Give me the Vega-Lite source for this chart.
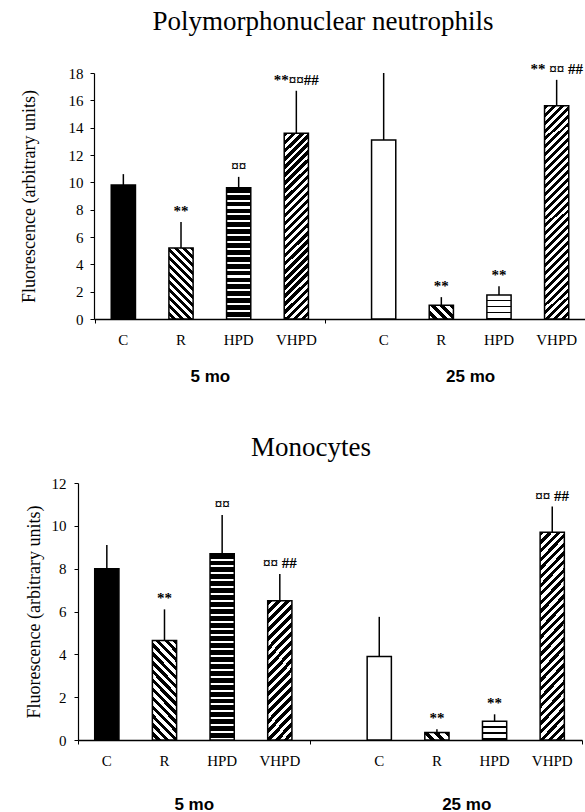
{
"$schema":"https://vega.github.io/schema/vega-lite/v6.json",
"background":"white",
"padding":{"left":20,"top":8,"right":0,"bottom":0},
"datasets":{
"pmn":[
{"id":"C5","age":"5 mo","trt":"C","v":9.8,"err":10.6,"sig":""},
{"id":"R5","age":"5 mo","trt":"R","v":5.2,"err":7.1,"sig":"**"},
{"id":"HPD5","age":"5 mo","trt":"HPD","v":9.6,"err":10.4,"sig":"¤¤"},
{"id":"VHPD5","age":"5 mo","trt":"VHPD","v":13.6,"err":16.7,"sig":"**¤¤##"},
{"id":"C25","age":"25 mo","trt":"C","v":13.1,"err":18.0,"sig":""},
{"id":"R25","age":"25 mo","trt":"R","v":1.0,"err":1.6,"sig":"**"},
{"id":"HPD25","age":"25 mo","trt":"HPD","v":1.75,"err":2.4,"sig":"**"},
{"id":"VHPD25","age":"25 mo","trt":"VHPD","v":15.6,"err":17.5,"sig":"** ¤¤ ##"}
],
"mono":[
{"id":"C5","age":"5 mo","trt":"C","v":8.0,"err":9.1,"sig":""},
{"id":"R5","age":"5 mo","trt":"R","v":4.65,"err":6.1,"sig":"**"},
{"id":"HPD5","age":"5 mo","trt":"HPD","v":8.7,"err":10.5,"sig":"¤¤"},
{"id":"VHPD5","age":"5 mo","trt":"VHPD","v":6.5,"err":7.75,"sig":"¤¤ ##"},
{"id":"C25","age":"25 mo","trt":"C","v":3.9,"err":5.75,"sig":""},
{"id":"R25","age":"25 mo","trt":"R","v":0.35,"err":0.5,"sig":"**"},
{"id":"HPD25","age":"25 mo","trt":"HPD","v":0.87,"err":1.2,"sig":"**"},
{"id":"VHPD25","age":"25 mo","trt":"VHPD","v":9.7,"err":10.9,"sig":"¤¤ ##"}
]
},
"config":{
"view":{"stroke":null},
"font":"Liberation Serif",
"axis":{"domainColor":"#000","tickColor":"#000","labelColor":"#000","titleColor":"#000","grid":false,"tickSize":4},
"axisY":{"labelFont":"Liberation Serif","labelFontSize":15,"titleFont":"Liberation Serif","titleFontSize":18,"titleFontWeight":"normal","domainWidth":1.2},
"axisX":{"labelFont":"Liberation Sans","labelFontWeight":"bold","labelFontSize":17,"labelAngle":0,"tickBand":"extent","domainWidth":1.5},
"title":{"color":"#000","font":"Liberation Serif","fontWeight":"normal","anchor":"middle"},
"concat":{"spacing":50}
},
"vconcat":[
{
"width":508,"height":246,
"data":{"name":"pmn"},
"title":{"text":"Polymorphonuclear neutrophils","fontSize":27,"dx":-9,"offset":19},
"encoding":{
"x":{"field":"age","type":"nominal","sort":["5 mo","25 mo"],"scale":{"range":[16,508],"paddingInner":0.114,"paddingOuter":0.002},"axis":{"title":null,"labelPadding":45}},
"xOffset":{"field":"trt","type":"nominal","sort":["C","R","HPD","VHPD"],"scale":{"paddingInner":0.58,"paddingOuter":0.29}},
"y":{"field":"v","type":"quantitative","title":"Fluorescence (arbitrary units)","scale":{"domain":[0,18],"nice":false},"axis":{"values":[0,2,4,6,8,10,12,14,16,18],"offset":-16,"titlePadding":30,"labelPadding":7}}
},
"layer":[
{"transform":[{"filter":"datum.id=='C5'"}],"mark":{"type":"bar","fill":"#000","stroke":"#000","strokeWidth":1.5}},
{"transform":[{"filter":"datum.id=='R5'"}],"mark":{"type":"bar","stroke":"#000","strokeWidth":1.5,"fill":{"gradient":"linear","x1":1,"y1":0,"x2":0.594,"y2":1.2,"stops":[
{"offset":0,"color":"#000"},{"offset":0.0417,"color":"#000"},{"offset":0.0417,"color":"#fff"},{"offset":0.0833,"color":"#fff"},
{"offset":0.0833,"color":"#000"},{"offset":0.125,"color":"#000"},{"offset":0.125,"color":"#fff"},{"offset":0.1667,"color":"#fff"},
{"offset":0.1667,"color":"#000"},{"offset":0.2083,"color":"#000"},{"offset":0.2083,"color":"#fff"},{"offset":0.25,"color":"#fff"},
{"offset":0.25,"color":"#000"},{"offset":0.2917,"color":"#000"},{"offset":0.2917,"color":"#fff"},{"offset":0.3333,"color":"#fff"},
{"offset":0.3333,"color":"#000"},{"offset":0.375,"color":"#000"},{"offset":0.375,"color":"#fff"},{"offset":0.4167,"color":"#fff"},
{"offset":0.4167,"color":"#000"},{"offset":0.4583,"color":"#000"},{"offset":0.4583,"color":"#fff"},{"offset":0.5,"color":"#fff"},
{"offset":0.5,"color":"#000"},{"offset":0.5417,"color":"#000"},{"offset":0.5417,"color":"#fff"},{"offset":0.5833,"color":"#fff"},
{"offset":0.5833,"color":"#000"},{"offset":0.625,"color":"#000"},{"offset":0.625,"color":"#fff"},{"offset":0.6667,"color":"#fff"},
{"offset":0.6667,"color":"#000"},{"offset":0.7083,"color":"#000"},{"offset":0.7083,"color":"#fff"},{"offset":0.75,"color":"#fff"},
{"offset":0.75,"color":"#000"},{"offset":0.7917,"color":"#000"},{"offset":0.7917,"color":"#fff"},{"offset":0.8333,"color":"#fff"},
{"offset":0.8333,"color":"#000"},{"offset":0.875,"color":"#000"},{"offset":0.875,"color":"#fff"},{"offset":0.9167,"color":"#fff"},
{"offset":0.9167,"color":"#000"},{"offset":0.9583,"color":"#000"},{"offset":0.9583,"color":"#fff"},{"offset":1,"color":"#fff"}]}}},
{"transform":[{"filter":"datum.id=='HPD5'"}],"mark":{"type":"bar","stroke":"#000","strokeWidth":1.5,"fill":{"gradient":"linear","x1":0,"y1":0,"x2":0,"y2":1,"stops":[
{"offset":0,"color":"#000"},{"offset":0.0368,"color":"#000"},{"offset":0.0368,"color":"#fff"},{"offset":0.0526,"color":"#fff"},
{"offset":0.0526,"color":"#000"},{"offset":0.0895,"color":"#000"},{"offset":0.0895,"color":"#fff"},{"offset":0.1053,"color":"#fff"},
{"offset":0.1053,"color":"#000"},{"offset":0.1421,"color":"#000"},{"offset":0.1421,"color":"#fff"},{"offset":0.1579,"color":"#fff"},
{"offset":0.1579,"color":"#000"},{"offset":0.1947,"color":"#000"},{"offset":0.1947,"color":"#fff"},{"offset":0.2105,"color":"#fff"},
{"offset":0.2105,"color":"#000"},{"offset":0.2474,"color":"#000"},{"offset":0.2474,"color":"#fff"},{"offset":0.2632,"color":"#fff"},
{"offset":0.2632,"color":"#000"},{"offset":0.3,"color":"#000"},{"offset":0.3,"color":"#fff"},{"offset":0.3158,"color":"#fff"},
{"offset":0.3158,"color":"#000"},{"offset":0.3526,"color":"#000"},{"offset":0.3526,"color":"#fff"},{"offset":0.3684,"color":"#fff"},
{"offset":0.3684,"color":"#000"},{"offset":0.4053,"color":"#000"},{"offset":0.4053,"color":"#fff"},{"offset":0.4211,"color":"#fff"},
{"offset":0.4211,"color":"#000"},{"offset":0.4579,"color":"#000"},{"offset":0.4579,"color":"#fff"},{"offset":0.4737,"color":"#fff"},
{"offset":0.4737,"color":"#000"},{"offset":0.5105,"color":"#000"},{"offset":0.5105,"color":"#fff"},{"offset":0.5263,"color":"#fff"},
{"offset":0.5263,"color":"#000"},{"offset":0.5632,"color":"#000"},{"offset":0.5632,"color":"#fff"},{"offset":0.5789,"color":"#fff"},
{"offset":0.5789,"color":"#000"},{"offset":0.6158,"color":"#000"},{"offset":0.6158,"color":"#fff"},{"offset":0.6316,"color":"#fff"},
{"offset":0.6316,"color":"#000"},{"offset":0.6684,"color":"#000"},{"offset":0.6684,"color":"#fff"},{"offset":0.6842,"color":"#fff"},
{"offset":0.6842,"color":"#000"},{"offset":0.7211,"color":"#000"},{"offset":0.7211,"color":"#fff"},{"offset":0.7368,"color":"#fff"},
{"offset":0.7368,"color":"#000"},{"offset":0.7737,"color":"#000"},{"offset":0.7737,"color":"#fff"},{"offset":0.7895,"color":"#fff"},
{"offset":0.7895,"color":"#000"},{"offset":0.8263,"color":"#000"},{"offset":0.8263,"color":"#fff"},{"offset":0.8421,"color":"#fff"},
{"offset":0.8421,"color":"#000"},{"offset":0.8789,"color":"#000"},{"offset":0.8789,"color":"#fff"},{"offset":0.8947,"color":"#fff"},
{"offset":0.8947,"color":"#000"},{"offset":0.9316,"color":"#000"},{"offset":0.9316,"color":"#fff"},{"offset":0.9474,"color":"#fff"},
{"offset":0.9474,"color":"#000"},{"offset":0.9842,"color":"#000"},{"offset":0.9842,"color":"#fff"},{"offset":1,"color":"#fff"}]}}},
{"transform":[{"filter":"datum.id=='VHPD5'"}],"mark":{"type":"bar","stroke":"#000","strokeWidth":1.5,"fill":{"gradient":"linear","x1":0,"y1":0,"x2":0.1433,"y2":1.1105,"stops":[
{"offset":0,"color":"#000"},{"offset":0.0212,"color":"#000"},{"offset":0.0212,"color":"#fff"},{"offset":0.0385,"color":"#fff"},
{"offset":0.0385,"color":"#000"},{"offset":0.0596,"color":"#000"},{"offset":0.0596,"color":"#fff"},{"offset":0.0769,"color":"#fff"},
{"offset":0.0769,"color":"#000"},{"offset":0.0981,"color":"#000"},{"offset":0.0981,"color":"#fff"},{"offset":0.1154,"color":"#fff"},
{"offset":0.1154,"color":"#000"},{"offset":0.1365,"color":"#000"},{"offset":0.1365,"color":"#fff"},{"offset":0.1538,"color":"#fff"},
{"offset":0.1538,"color":"#000"},{"offset":0.175,"color":"#000"},{"offset":0.175,"color":"#fff"},{"offset":0.1923,"color":"#fff"},
{"offset":0.1923,"color":"#000"},{"offset":0.2135,"color":"#000"},{"offset":0.2135,"color":"#fff"},{"offset":0.2308,"color":"#fff"},
{"offset":0.2308,"color":"#000"},{"offset":0.2519,"color":"#000"},{"offset":0.2519,"color":"#fff"},{"offset":0.2692,"color":"#fff"},
{"offset":0.2692,"color":"#000"},{"offset":0.2904,"color":"#000"},{"offset":0.2904,"color":"#fff"},{"offset":0.3077,"color":"#fff"},
{"offset":0.3077,"color":"#000"},{"offset":0.3288,"color":"#000"},{"offset":0.3288,"color":"#fff"},{"offset":0.3462,"color":"#fff"},
{"offset":0.3462,"color":"#000"},{"offset":0.3673,"color":"#000"},{"offset":0.3673,"color":"#fff"},{"offset":0.3846,"color":"#fff"},
{"offset":0.3846,"color":"#000"},{"offset":0.4058,"color":"#000"},{"offset":0.4058,"color":"#fff"},{"offset":0.4231,"color":"#fff"},
{"offset":0.4231,"color":"#000"},{"offset":0.4442,"color":"#000"},{"offset":0.4442,"color":"#fff"},{"offset":0.4615,"color":"#fff"},
{"offset":0.4615,"color":"#000"},{"offset":0.4827,"color":"#000"},{"offset":0.4827,"color":"#fff"},{"offset":0.5,"color":"#fff"},
{"offset":0.5,"color":"#000"},{"offset":0.5212,"color":"#000"},{"offset":0.5212,"color":"#fff"},{"offset":0.5385,"color":"#fff"},
{"offset":0.5385,"color":"#000"},{"offset":0.5596,"color":"#000"},{"offset":0.5596,"color":"#fff"},{"offset":0.5769,"color":"#fff"},
{"offset":0.5769,"color":"#000"},{"offset":0.5981,"color":"#000"},{"offset":0.5981,"color":"#fff"},{"offset":0.6154,"color":"#fff"},
{"offset":0.6154,"color":"#000"},{"offset":0.6365,"color":"#000"},{"offset":0.6365,"color":"#fff"},{"offset":0.6538,"color":"#fff"},
{"offset":0.6538,"color":"#000"},{"offset":0.675,"color":"#000"},{"offset":0.675,"color":"#fff"},{"offset":0.6923,"color":"#fff"},
{"offset":0.6923,"color":"#000"},{"offset":0.7135,"color":"#000"},{"offset":0.7135,"color":"#fff"},{"offset":0.7308,"color":"#fff"},
{"offset":0.7308,"color":"#000"},{"offset":0.7519,"color":"#000"},{"offset":0.7519,"color":"#fff"},{"offset":0.7692,"color":"#fff"},
{"offset":0.7692,"color":"#000"},{"offset":0.7904,"color":"#000"},{"offset":0.7904,"color":"#fff"},{"offset":0.8077,"color":"#fff"},
{"offset":0.8077,"color":"#000"},{"offset":0.8288,"color":"#000"},{"offset":0.8288,"color":"#fff"},{"offset":0.8462,"color":"#fff"},
{"offset":0.8462,"color":"#000"},{"offset":0.8673,"color":"#000"},{"offset":0.8673,"color":"#fff"},{"offset":0.8846,"color":"#fff"},
{"offset":0.8846,"color":"#000"},{"offset":0.9058,"color":"#000"},{"offset":0.9058,"color":"#fff"},{"offset":0.9231,"color":"#fff"},
{"offset":0.9231,"color":"#000"},{"offset":0.9442,"color":"#000"},{"offset":0.9442,"color":"#fff"},{"offset":0.9615,"color":"#fff"},
{"offset":0.9615,"color":"#000"},{"offset":0.9827,"color":"#000"},{"offset":0.9827,"color":"#fff"},{"offset":1,"color":"#fff"}]}}},
{"transform":[{"filter":"datum.id=='C25'"}],"mark":{"type":"bar","fill":"#fff","stroke":"#000","strokeWidth":1.5}},
{"transform":[{"filter":"datum.id=='R25'"}],"mark":{"type":"bar","stroke":"#000","strokeWidth":1.5,"fill":{"gradient":"linear","x1":1,"y1":0,"x2":-0.185,"y2":0.676,"stops":[
{"offset":0,"color":"#000"},{"offset":0.125,"color":"#000"},{"offset":0.125,"color":"#fff"},{"offset":0.25,"color":"#fff"},
{"offset":0.25,"color":"#000"},{"offset":0.375,"color":"#000"},{"offset":0.375,"color":"#fff"},{"offset":0.5,"color":"#fff"},
{"offset":0.5,"color":"#000"},{"offset":0.625,"color":"#000"},{"offset":0.625,"color":"#fff"},{"offset":0.75,"color":"#fff"},
{"offset":0.75,"color":"#000"},{"offset":0.875,"color":"#000"},{"offset":0.875,"color":"#fff"},{"offset":1,"color":"#fff"}]}}},
{"transform":[{"filter":"datum.id=='HPD25'"}],"mark":{"type":"bar","stroke":"#000","strokeWidth":1.5,"fill":{"gradient":"linear","x1":0,"y1":0,"x2":0,"y2":1,"stops":[
{"offset":0,"color":"#fff"},{"offset":0.1875,"color":"#fff"},{"offset":0.1875,"color":"#000"},{"offset":0.25,"color":"#000"},
{"offset":0.25,"color":"#fff"},{"offset":0.4375,"color":"#fff"},{"offset":0.4375,"color":"#000"},{"offset":0.5,"color":"#000"},
{"offset":0.5,"color":"#fff"},{"offset":0.6875,"color":"#fff"},{"offset":0.6875,"color":"#000"},{"offset":0.75,"color":"#000"},
{"offset":0.75,"color":"#fff"},{"offset":0.9375,"color":"#fff"},{"offset":0.9375,"color":"#000"},{"offset":1,"color":"#000"}]}}},
{"transform":[{"filter":"datum.id=='VHPD25'"}],"mark":{"type":"bar","stroke":"#000","strokeWidth":1.5,"fill":{"gradient":"linear","x1":0,"y1":0,"x2":0.1238,"y2":1.0987,"stops":[
{"offset":0,"color":"#000"},{"offset":0.0167,"color":"#000"},{"offset":0.0167,"color":"#fff"},{"offset":0.0333,"color":"#fff"},
{"offset":0.0333,"color":"#000"},{"offset":0.05,"color":"#000"},{"offset":0.05,"color":"#fff"},{"offset":0.0667,"color":"#fff"},
{"offset":0.0667,"color":"#000"},{"offset":0.0833,"color":"#000"},{"offset":0.0833,"color":"#fff"},{"offset":0.1,"color":"#fff"},
{"offset":0.1,"color":"#000"},{"offset":0.1167,"color":"#000"},{"offset":0.1167,"color":"#fff"},{"offset":0.1333,"color":"#fff"},
{"offset":0.1333,"color":"#000"},{"offset":0.15,"color":"#000"},{"offset":0.15,"color":"#fff"},{"offset":0.1667,"color":"#fff"},
{"offset":0.1667,"color":"#000"},{"offset":0.1833,"color":"#000"},{"offset":0.1833,"color":"#fff"},{"offset":0.2,"color":"#fff"},
{"offset":0.2,"color":"#000"},{"offset":0.2167,"color":"#000"},{"offset":0.2167,"color":"#fff"},{"offset":0.2333,"color":"#fff"},
{"offset":0.2333,"color":"#000"},{"offset":0.25,"color":"#000"},{"offset":0.25,"color":"#fff"},{"offset":0.2667,"color":"#fff"},
{"offset":0.2667,"color":"#000"},{"offset":0.2833,"color":"#000"},{"offset":0.2833,"color":"#fff"},{"offset":0.3,"color":"#fff"},
{"offset":0.3,"color":"#000"},{"offset":0.3167,"color":"#000"},{"offset":0.3167,"color":"#fff"},{"offset":0.3333,"color":"#fff"},
{"offset":0.3333,"color":"#000"},{"offset":0.35,"color":"#000"},{"offset":0.35,"color":"#fff"},{"offset":0.3667,"color":"#fff"},
{"offset":0.3667,"color":"#000"},{"offset":0.3833,"color":"#000"},{"offset":0.3833,"color":"#fff"},{"offset":0.4,"color":"#fff"},
{"offset":0.4,"color":"#000"},{"offset":0.4167,"color":"#000"},{"offset":0.4167,"color":"#fff"},{"offset":0.4333,"color":"#fff"},
{"offset":0.4333,"color":"#000"},{"offset":0.45,"color":"#000"},{"offset":0.45,"color":"#fff"},{"offset":0.4667,"color":"#fff"},
{"offset":0.4667,"color":"#000"},{"offset":0.4833,"color":"#000"},{"offset":0.4833,"color":"#fff"},{"offset":0.5,"color":"#fff"},
{"offset":0.5,"color":"#000"},{"offset":0.5167,"color":"#000"},{"offset":0.5167,"color":"#fff"},{"offset":0.5333,"color":"#fff"},
{"offset":0.5333,"color":"#000"},{"offset":0.55,"color":"#000"},{"offset":0.55,"color":"#fff"},{"offset":0.5667,"color":"#fff"},
{"offset":0.5667,"color":"#000"},{"offset":0.5833,"color":"#000"},{"offset":0.5833,"color":"#fff"},{"offset":0.6,"color":"#fff"},
{"offset":0.6,"color":"#000"},{"offset":0.6167,"color":"#000"},{"offset":0.6167,"color":"#fff"},{"offset":0.6333,"color":"#fff"},
{"offset":0.6333,"color":"#000"},{"offset":0.65,"color":"#000"},{"offset":0.65,"color":"#fff"},{"offset":0.6667,"color":"#fff"},
{"offset":0.6667,"color":"#000"},{"offset":0.6833,"color":"#000"},{"offset":0.6833,"color":"#fff"},{"offset":0.7,"color":"#fff"},
{"offset":0.7,"color":"#000"},{"offset":0.7167,"color":"#000"},{"offset":0.7167,"color":"#fff"},{"offset":0.7333,"color":"#fff"},
{"offset":0.7333,"color":"#000"},{"offset":0.75,"color":"#000"},{"offset":0.75,"color":"#fff"},{"offset":0.7667,"color":"#fff"},
{"offset":0.7667,"color":"#000"},{"offset":0.7833,"color":"#000"},{"offset":0.7833,"color":"#fff"},{"offset":0.8,"color":"#fff"},
{"offset":0.8,"color":"#000"},{"offset":0.8167,"color":"#000"},{"offset":0.8167,"color":"#fff"},{"offset":0.8333,"color":"#fff"},
{"offset":0.8333,"color":"#000"},{"offset":0.85,"color":"#000"},{"offset":0.85,"color":"#fff"},{"offset":0.8667,"color":"#fff"},
{"offset":0.8667,"color":"#000"},{"offset":0.8833,"color":"#000"},{"offset":0.8833,"color":"#fff"},{"offset":0.9,"color":"#fff"},
{"offset":0.9,"color":"#000"},{"offset":0.9167,"color":"#000"},{"offset":0.9167,"color":"#fff"},{"offset":0.9333,"color":"#fff"},
{"offset":0.9333,"color":"#000"},{"offset":0.95,"color":"#000"},{"offset":0.95,"color":"#fff"},{"offset":0.9667,"color":"#fff"},
{"offset":0.9667,"color":"#000"},{"offset":0.9833,"color":"#000"},{"offset":0.9833,"color":"#fff"},{"offset":1,"color":"#fff"}]}}},
{"mark":{"type":"rule","color":"#000","strokeWidth":1.5},"encoding":{"y2":{"field":"err"}}},
{"mark":{"type":"text","baseline":"bottom","dy":-3,"fontSize":15,"fontWeight":"bold","color":"#000"},"encoding":{"y":{"field":"err","type":"quantitative","title":"Fluorescence (arbitrary units)"},"text":{"field":"sig"}}},
{"mark":{"type":"text","baseline":"middle","dy":21,"fontSize":15,"color":"#000"},"encoding":{"y":{"datum":0,"type":"quantitative","title":"Fluorescence (arbitrary units)"},"text":{"field":"trt"}}}
]
},
{
"width":508,"height":257,
"data":{"name":"mono"},
"title":{"text":"Monocytes","fontSize":27,"dx":-21,"offset":14},
"encoding":{
"x":{"field":"age","type":"nominal","sort":["5 mo","25 mo"],"scale":{"range":[0,504],"paddingInner":0.15,"paddingOuter":0},"axis":{"title":null,"labelPadding":52}},
"xOffset":{"field":"trt","type":"nominal","sort":["C","R","HPD","VHPD"],"scale":{"paddingInner":0.58,"paddingOuter":0.29}},
"y":{"field":"v","type":"quantitative","title":"Fluorescence (arbitrary units)","scale":{"domain":[0,12],"nice":false},"axis":{"values":[0,2,4,6,8,10,12],"titlePadding":8,"labelPadding":8}}
},
"layer":[
{"transform":[{"filter":"datum.id=='C5'"}],"mark":{"type":"bar","fill":"#000","stroke":"#000","strokeWidth":1.5}},
{"transform":[{"filter":"datum.id=='R5'"}],"mark":{"type":"bar","stroke":"#000","strokeWidth":1.5,"fill":{"gradient":"linear","x1":1,"y1":0,"x2":0.706,"y2":1.176,"stops":[
{"offset":0,"color":"#000"},{"offset":0.0357,"color":"#000"},{"offset":0.0357,"color":"#fff"},{"offset":0.0714,"color":"#fff"},
{"offset":0.0714,"color":"#000"},{"offset":0.1071,"color":"#000"},{"offset":0.1071,"color":"#fff"},{"offset":0.1429,"color":"#fff"},
{"offset":0.1429,"color":"#000"},{"offset":0.1786,"color":"#000"},{"offset":0.1786,"color":"#fff"},{"offset":0.2143,"color":"#fff"},
{"offset":0.2143,"color":"#000"},{"offset":0.25,"color":"#000"},{"offset":0.25,"color":"#fff"},{"offset":0.2857,"color":"#fff"},
{"offset":0.2857,"color":"#000"},{"offset":0.3214,"color":"#000"},{"offset":0.3214,"color":"#fff"},{"offset":0.3571,"color":"#fff"},
{"offset":0.3571,"color":"#000"},{"offset":0.3929,"color":"#000"},{"offset":0.3929,"color":"#fff"},{"offset":0.4286,"color":"#fff"},
{"offset":0.4286,"color":"#000"},{"offset":0.4643,"color":"#000"},{"offset":0.4643,"color":"#fff"},{"offset":0.5,"color":"#fff"},
{"offset":0.5,"color":"#000"},{"offset":0.5357,"color":"#000"},{"offset":0.5357,"color":"#fff"},{"offset":0.5714,"color":"#fff"},
{"offset":0.5714,"color":"#000"},{"offset":0.6071,"color":"#000"},{"offset":0.6071,"color":"#fff"},{"offset":0.6429,"color":"#fff"},
{"offset":0.6429,"color":"#000"},{"offset":0.6786,"color":"#000"},{"offset":0.6786,"color":"#fff"},{"offset":0.7143,"color":"#fff"},
{"offset":0.7143,"color":"#000"},{"offset":0.75,"color":"#000"},{"offset":0.75,"color":"#fff"},{"offset":0.7857,"color":"#fff"},
{"offset":0.7857,"color":"#000"},{"offset":0.8214,"color":"#000"},{"offset":0.8214,"color":"#fff"},{"offset":0.8571,"color":"#fff"},
{"offset":0.8571,"color":"#000"},{"offset":0.8929,"color":"#000"},{"offset":0.8929,"color":"#fff"},{"offset":0.9286,"color":"#fff"},
{"offset":0.9286,"color":"#000"},{"offset":0.9643,"color":"#000"},{"offset":0.9643,"color":"#fff"},{"offset":1,"color":"#fff"}]}}},
{"transform":[{"filter":"datum.id=='HPD5'"}],"mark":{"type":"bar","stroke":"#000","strokeWidth":1.5,"fill":{"gradient":"linear","x1":0,"y1":0,"x2":0,"y2":1,"stops":[
{"offset":0,"color":"#000"},{"offset":0.0259,"color":"#000"},{"offset":0.0259,"color":"#fff"},{"offset":0.037,"color":"#fff"},
{"offset":0.037,"color":"#000"},{"offset":0.063,"color":"#000"},{"offset":0.063,"color":"#fff"},{"offset":0.0741,"color":"#fff"},
{"offset":0.0741,"color":"#000"},{"offset":0.1,"color":"#000"},{"offset":0.1,"color":"#fff"},{"offset":0.1111,"color":"#fff"},
{"offset":0.1111,"color":"#000"},{"offset":0.137,"color":"#000"},{"offset":0.137,"color":"#fff"},{"offset":0.1481,"color":"#fff"},
{"offset":0.1481,"color":"#000"},{"offset":0.1741,"color":"#000"},{"offset":0.1741,"color":"#fff"},{"offset":0.1852,"color":"#fff"},
{"offset":0.1852,"color":"#000"},{"offset":0.2111,"color":"#000"},{"offset":0.2111,"color":"#fff"},{"offset":0.2222,"color":"#fff"},
{"offset":0.2222,"color":"#000"},{"offset":0.2481,"color":"#000"},{"offset":0.2481,"color":"#fff"},{"offset":0.2593,"color":"#fff"},
{"offset":0.2593,"color":"#000"},{"offset":0.2852,"color":"#000"},{"offset":0.2852,"color":"#fff"},{"offset":0.2963,"color":"#fff"},
{"offset":0.2963,"color":"#000"},{"offset":0.3222,"color":"#000"},{"offset":0.3222,"color":"#fff"},{"offset":0.3333,"color":"#fff"},
{"offset":0.3333,"color":"#000"},{"offset":0.3593,"color":"#000"},{"offset":0.3593,"color":"#fff"},{"offset":0.3704,"color":"#fff"},
{"offset":0.3704,"color":"#000"},{"offset":0.3963,"color":"#000"},{"offset":0.3963,"color":"#fff"},{"offset":0.4074,"color":"#fff"},
{"offset":0.4074,"color":"#000"},{"offset":0.4333,"color":"#000"},{"offset":0.4333,"color":"#fff"},{"offset":0.4444,"color":"#fff"},
{"offset":0.4444,"color":"#000"},{"offset":0.4704,"color":"#000"},{"offset":0.4704,"color":"#fff"},{"offset":0.4815,"color":"#fff"},
{"offset":0.4815,"color":"#000"},{"offset":0.5074,"color":"#000"},{"offset":0.5074,"color":"#fff"},{"offset":0.5185,"color":"#fff"},
{"offset":0.5185,"color":"#000"},{"offset":0.5444,"color":"#000"},{"offset":0.5444,"color":"#fff"},{"offset":0.5556,"color":"#fff"},
{"offset":0.5556,"color":"#000"},{"offset":0.5815,"color":"#000"},{"offset":0.5815,"color":"#fff"},{"offset":0.5926,"color":"#fff"},
{"offset":0.5926,"color":"#000"},{"offset":0.6185,"color":"#000"},{"offset":0.6185,"color":"#fff"},{"offset":0.6296,"color":"#fff"},
{"offset":0.6296,"color":"#000"},{"offset":0.6556,"color":"#000"},{"offset":0.6556,"color":"#fff"},{"offset":0.6667,"color":"#fff"},
{"offset":0.6667,"color":"#000"},{"offset":0.6926,"color":"#000"},{"offset":0.6926,"color":"#fff"},{"offset":0.7037,"color":"#fff"},
{"offset":0.7037,"color":"#000"},{"offset":0.7296,"color":"#000"},{"offset":0.7296,"color":"#fff"},{"offset":0.7407,"color":"#fff"},
{"offset":0.7407,"color":"#000"},{"offset":0.7667,"color":"#000"},{"offset":0.7667,"color":"#fff"},{"offset":0.7778,"color":"#fff"},
{"offset":0.7778,"color":"#000"},{"offset":0.8037,"color":"#000"},{"offset":0.8037,"color":"#fff"},{"offset":0.8148,"color":"#fff"},
{"offset":0.8148,"color":"#000"},{"offset":0.8407,"color":"#000"},{"offset":0.8407,"color":"#fff"},{"offset":0.8519,"color":"#fff"},
{"offset":0.8519,"color":"#000"},{"offset":0.8778,"color":"#000"},{"offset":0.8778,"color":"#fff"},{"offset":0.8889,"color":"#fff"},
{"offset":0.8889,"color":"#000"},{"offset":0.9148,"color":"#000"},{"offset":0.9148,"color":"#fff"},{"offset":0.9259,"color":"#fff"},
{"offset":0.9259,"color":"#000"},{"offset":0.9519,"color":"#000"},{"offset":0.9519,"color":"#fff"},{"offset":0.963,"color":"#fff"},
{"offset":0.963,"color":"#000"},{"offset":0.9889,"color":"#000"},{"offset":0.9889,"color":"#fff"},{"offset":1,"color":"#fff"}]}}},
{"transform":[{"filter":"datum.id=='VHPD5'"}],"mark":{"type":"bar","stroke":"#000","strokeWidth":1.5,"fill":{"gradient":"linear","x1":0,"y1":0,"x2":0.2056,"y2":1.143,"stops":[
{"offset":0,"color":"#000"},{"offset":0.0306,"color":"#000"},{"offset":0.0306,"color":"#fff"},{"offset":0.0556,"color":"#fff"},
{"offset":0.0556,"color":"#000"},{"offset":0.0861,"color":"#000"},{"offset":0.0861,"color":"#fff"},{"offset":0.1111,"color":"#fff"},
{"offset":0.1111,"color":"#000"},{"offset":0.1417,"color":"#000"},{"offset":0.1417,"color":"#fff"},{"offset":0.1667,"color":"#fff"},
{"offset":0.1667,"color":"#000"},{"offset":0.1972,"color":"#000"},{"offset":0.1972,"color":"#fff"},{"offset":0.2222,"color":"#fff"},
{"offset":0.2222,"color":"#000"},{"offset":0.2528,"color":"#000"},{"offset":0.2528,"color":"#fff"},{"offset":0.2778,"color":"#fff"},
{"offset":0.2778,"color":"#000"},{"offset":0.3083,"color":"#000"},{"offset":0.3083,"color":"#fff"},{"offset":0.3333,"color":"#fff"},
{"offset":0.3333,"color":"#000"},{"offset":0.3639,"color":"#000"},{"offset":0.3639,"color":"#fff"},{"offset":0.3889,"color":"#fff"},
{"offset":0.3889,"color":"#000"},{"offset":0.4194,"color":"#000"},{"offset":0.4194,"color":"#fff"},{"offset":0.4444,"color":"#fff"},
{"offset":0.4444,"color":"#000"},{"offset":0.475,"color":"#000"},{"offset":0.475,"color":"#fff"},{"offset":0.5,"color":"#fff"},
{"offset":0.5,"color":"#000"},{"offset":0.5306,"color":"#000"},{"offset":0.5306,"color":"#fff"},{"offset":0.5556,"color":"#fff"},
{"offset":0.5556,"color":"#000"},{"offset":0.5861,"color":"#000"},{"offset":0.5861,"color":"#fff"},{"offset":0.6111,"color":"#fff"},
{"offset":0.6111,"color":"#000"},{"offset":0.6417,"color":"#000"},{"offset":0.6417,"color":"#fff"},{"offset":0.6667,"color":"#fff"},
{"offset":0.6667,"color":"#000"},{"offset":0.6972,"color":"#000"},{"offset":0.6972,"color":"#fff"},{"offset":0.7222,"color":"#fff"},
{"offset":0.7222,"color":"#000"},{"offset":0.7528,"color":"#000"},{"offset":0.7528,"color":"#fff"},{"offset":0.7778,"color":"#fff"},
{"offset":0.7778,"color":"#000"},{"offset":0.8083,"color":"#000"},{"offset":0.8083,"color":"#fff"},{"offset":0.8333,"color":"#fff"},
{"offset":0.8333,"color":"#000"},{"offset":0.8639,"color":"#000"},{"offset":0.8639,"color":"#fff"},{"offset":0.8889,"color":"#fff"},
{"offset":0.8889,"color":"#000"},{"offset":0.9194,"color":"#000"},{"offset":0.9194,"color":"#fff"},{"offset":0.9444,"color":"#fff"},
{"offset":0.9444,"color":"#000"},{"offset":0.975,"color":"#000"},{"offset":0.975,"color":"#fff"},{"offset":1,"color":"#fff"}]}}},
{"transform":[{"filter":"datum.id=='C25'"}],"mark":{"type":"bar","fill":"#fff","stroke":"#000","strokeWidth":1.5}},
{"transform":[{"filter":"datum.id=='R25'"}],"mark":{"type":"bar","stroke":"#000","strokeWidth":1.5,"fill":{"gradient":"linear","x1":1,"y1":0,"x2":-0.193,"y2":0.358,"stops":[
{"offset":0,"color":"#000"},{"offset":0.1667,"color":"#000"},{"offset":0.1667,"color":"#fff"},{"offset":0.3333,"color":"#fff"},
{"offset":0.3333,"color":"#000"},{"offset":0.5,"color":"#000"},{"offset":0.5,"color":"#fff"},{"offset":0.6667,"color":"#fff"},
{"offset":0.6667,"color":"#000"},{"offset":0.8333,"color":"#000"},{"offset":0.8333,"color":"#fff"},{"offset":1,"color":"#fff"}]}}},
{"transform":[{"filter":"datum.id=='HPD25'"}],"mark":{"type":"bar","stroke":"#000","strokeWidth":1.5,"fill":{"gradient":"linear","x1":0,"y1":0,"x2":0,"y2":1,"stops":[
{"offset":0,"color":"#fff"},{"offset":0.25,"color":"#fff"},{"offset":0.25,"color":"#000"},{"offset":0.3333,"color":"#000"},
{"offset":0.3333,"color":"#fff"},{"offset":0.5833,"color":"#fff"},{"offset":0.5833,"color":"#000"},{"offset":0.6667,"color":"#000"},
{"offset":0.6667,"color":"#fff"},{"offset":0.9167,"color":"#fff"},{"offset":0.9167,"color":"#000"},{"offset":1,"color":"#000"}]}}},
{"transform":[{"filter":"datum.id=='VHPD25'"}],"mark":{"type":"bar","stroke":"#000","strokeWidth":1.5,"fill":{"gradient":"linear","x1":0,"y1":0,"x2":0.1327,"y2":1.104,"stops":[
{"offset":0,"color":"#000"},{"offset":0.0185,"color":"#000"},{"offset":0.0185,"color":"#fff"},{"offset":0.037,"color":"#fff"},
{"offset":0.037,"color":"#000"},{"offset":0.0556,"color":"#000"},{"offset":0.0556,"color":"#fff"},{"offset":0.0741,"color":"#fff"},
{"offset":0.0741,"color":"#000"},{"offset":0.0926,"color":"#000"},{"offset":0.0926,"color":"#fff"},{"offset":0.1111,"color":"#fff"},
{"offset":0.1111,"color":"#000"},{"offset":0.1296,"color":"#000"},{"offset":0.1296,"color":"#fff"},{"offset":0.1481,"color":"#fff"},
{"offset":0.1481,"color":"#000"},{"offset":0.1667,"color":"#000"},{"offset":0.1667,"color":"#fff"},{"offset":0.1852,"color":"#fff"},
{"offset":0.1852,"color":"#000"},{"offset":0.2037,"color":"#000"},{"offset":0.2037,"color":"#fff"},{"offset":0.2222,"color":"#fff"},
{"offset":0.2222,"color":"#000"},{"offset":0.2407,"color":"#000"},{"offset":0.2407,"color":"#fff"},{"offset":0.2593,"color":"#fff"},
{"offset":0.2593,"color":"#000"},{"offset":0.2778,"color":"#000"},{"offset":0.2778,"color":"#fff"},{"offset":0.2963,"color":"#fff"},
{"offset":0.2963,"color":"#000"},{"offset":0.3148,"color":"#000"},{"offset":0.3148,"color":"#fff"},{"offset":0.3333,"color":"#fff"},
{"offset":0.3333,"color":"#000"},{"offset":0.3519,"color":"#000"},{"offset":0.3519,"color":"#fff"},{"offset":0.3704,"color":"#fff"},
{"offset":0.3704,"color":"#000"},{"offset":0.3889,"color":"#000"},{"offset":0.3889,"color":"#fff"},{"offset":0.4074,"color":"#fff"},
{"offset":0.4074,"color":"#000"},{"offset":0.4259,"color":"#000"},{"offset":0.4259,"color":"#fff"},{"offset":0.4444,"color":"#fff"},
{"offset":0.4444,"color":"#000"},{"offset":0.463,"color":"#000"},{"offset":0.463,"color":"#fff"},{"offset":0.4815,"color":"#fff"},
{"offset":0.4815,"color":"#000"},{"offset":0.5,"color":"#000"},{"offset":0.5,"color":"#fff"},{"offset":0.5185,"color":"#fff"},
{"offset":0.5185,"color":"#000"},{"offset":0.537,"color":"#000"},{"offset":0.537,"color":"#fff"},{"offset":0.5556,"color":"#fff"},
{"offset":0.5556,"color":"#000"},{"offset":0.5741,"color":"#000"},{"offset":0.5741,"color":"#fff"},{"offset":0.5926,"color":"#fff"},
{"offset":0.5926,"color":"#000"},{"offset":0.6111,"color":"#000"},{"offset":0.6111,"color":"#fff"},{"offset":0.6296,"color":"#fff"},
{"offset":0.6296,"color":"#000"},{"offset":0.6481,"color":"#000"},{"offset":0.6481,"color":"#fff"},{"offset":0.6667,"color":"#fff"},
{"offset":0.6667,"color":"#000"},{"offset":0.6852,"color":"#000"},{"offset":0.6852,"color":"#fff"},{"offset":0.7037,"color":"#fff"},
{"offset":0.7037,"color":"#000"},{"offset":0.7222,"color":"#000"},{"offset":0.7222,"color":"#fff"},{"offset":0.7407,"color":"#fff"},
{"offset":0.7407,"color":"#000"},{"offset":0.7593,"color":"#000"},{"offset":0.7593,"color":"#fff"},{"offset":0.7778,"color":"#fff"},
{"offset":0.7778,"color":"#000"},{"offset":0.7963,"color":"#000"},{"offset":0.7963,"color":"#fff"},{"offset":0.8148,"color":"#fff"},
{"offset":0.8148,"color":"#000"},{"offset":0.8333,"color":"#000"},{"offset":0.8333,"color":"#fff"},{"offset":0.8519,"color":"#fff"},
{"offset":0.8519,"color":"#000"},{"offset":0.8704,"color":"#000"},{"offset":0.8704,"color":"#fff"},{"offset":0.8889,"color":"#fff"},
{"offset":0.8889,"color":"#000"},{"offset":0.9074,"color":"#000"},{"offset":0.9074,"color":"#fff"},{"offset":0.9259,"color":"#fff"},
{"offset":0.9259,"color":"#000"},{"offset":0.9444,"color":"#000"},{"offset":0.9444,"color":"#fff"},{"offset":0.963,"color":"#fff"},
{"offset":0.963,"color":"#000"},{"offset":0.9815,"color":"#000"},{"offset":0.9815,"color":"#fff"},{"offset":1,"color":"#fff"}]}}},
{"mark":{"type":"rule","color":"#000","strokeWidth":1.5},"encoding":{"y2":{"field":"err"}}},
{"mark":{"type":"text","baseline":"bottom","dy":-3,"fontSize":15,"fontWeight":"bold","color":"#000"},"encoding":{"y":{"field":"err","type":"quantitative","title":"Fluorescence (arbitrary units)"},"text":{"field":"sig"}}},
{"mark":{"type":"text","baseline":"middle","dy":21,"fontSize":15,"color":"#000"},"encoding":{"y":{"datum":0,"type":"quantitative","title":"Fluorescence (arbitrary units)"},"text":{"field":"trt"}}}
]
}
]
}
